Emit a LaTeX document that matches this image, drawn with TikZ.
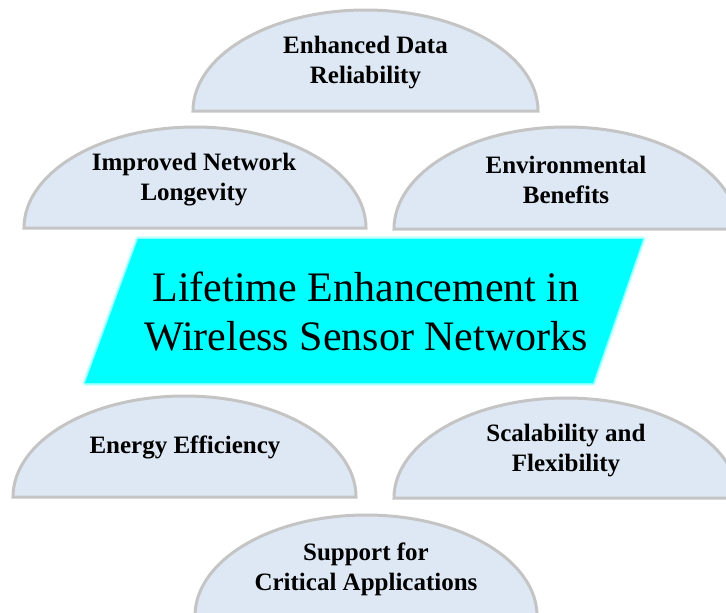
\documentclass[tikz,border=0pt]{standalone}
\usepackage{fontspec}
\setmainfont{Liberation Serif}
\usetikzlibrary{positioning}
\definecolor{domefill}{RGB}{222,232,244}
\definecolor{domeedge}{RGB}{196,196,196}
\definecolor{hubcyan}{RGB}{0,255,255}

\begin{document}
\begin{tikzpicture}[
    x=1pt, y=-1pt,
    dome/.style={fill=domefill, draw=domeedge, line width=3pt},
    benefit/.style={align=center, inner sep=0pt, font=\fontsize{25}{30}\selectfont\bfseries},
    hub/.style={align=center, inner sep=0pt, font=\fontsize{42}{49}\selectfont},
    glow/.style={draw=hubcyan, line join=round}
  ]
    \useasboundingbox (0,0) rectangle (726,613);
    \clip (0,0) rectangle (726,613);

    % half domes around the centre
    \draw[dome] (193,111) arc[start angle=180, end angle=360, x radius=172.5, y radius=101] -- cycle;
    \draw[dome] (24,228) arc[start angle=180, end angle=360, x radius=171, y radius=101] -- cycle;
    \draw[dome] (394,229) arc[start angle=180, end angle=360, x radius=172, y radius=102] -- cycle;
    \draw[dome] (13,497) arc[start angle=180, end angle=360, x radius=171.5, y radius=101] -- cycle;
    \draw[dome] (394,498) arc[start angle=180, end angle=360, x radius=172, y radius=100] -- cycle;
    \draw[dome] (195,616) arc[start angle=180, end angle=360, x radius=171, y radius=101] -- cycle;

    % centre parallelogram with a soft edge
    \draw[glow, line width=6pt, opacity=0.15] (138,239) -- (643,239) -- (593,383) -- (85,383) -- cycle;
    \draw[glow, line width=3pt, opacity=0.35] (138,239) -- (643,239) -- (593,383) -- (85,383) -- cycle;
    \fill[hubcyan] (138,239) -- (643,239) -- (593,383) -- (85,383) -- cycle;

    \node[hub] (wsn) at (366,312) {Lifetime Enhancement in\\Wireless Sensor Networks};

    \node[benefit] (reliab) at (365.5,63) {Enhanced Data\\Reliability};
    \node[benefit] (longev) at (194,180) {Improved Network\\Longevity};
    \node[benefit] (enviro) at (566,180) {Environmental\\Benefits};
    \node[benefit] (energy) at (185,447) {Energy Efficiency};
    \node[benefit] (scal) at (566,451) {Scalability and\\Flexibility};
    \node[benefit] (support) at (366,569) {Support for\\Critical Applications};
  \end{tikzpicture}
\end{document}
